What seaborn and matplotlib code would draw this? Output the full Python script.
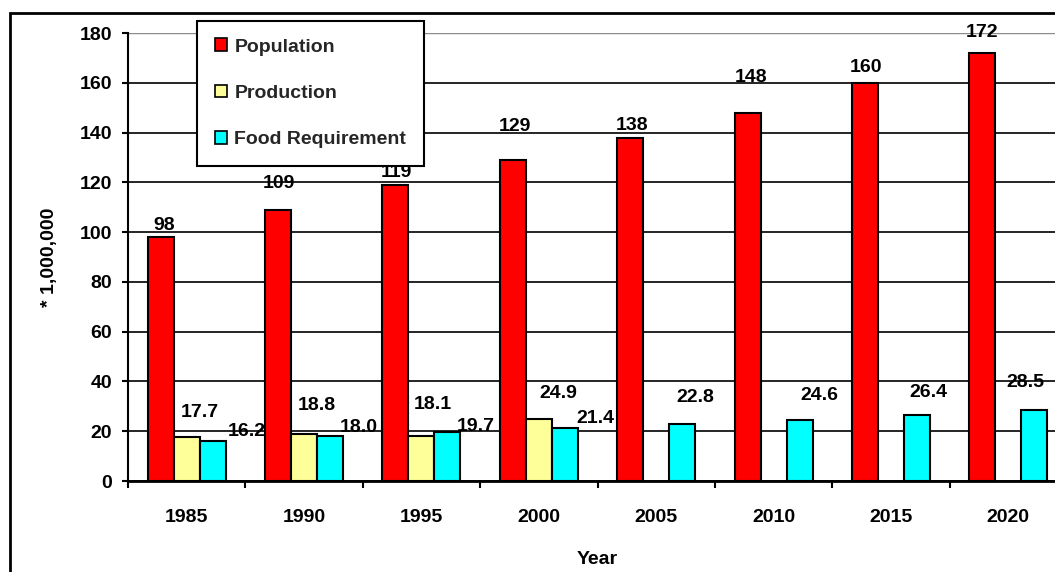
import numpy as np
import pandas as pd
import matplotlib
matplotlib.use("Agg")
import matplotlib.pyplot as plt
from matplotlib.patches import Patch, Rectangle
from matplotlib.ticker import FixedLocator
import seaborn as sns

# --- data (millions) ---
years = ["1985", "1990", "1995", "2000", "2005", "2010", "2015", "2020"]
population = [98, 109, 119, 129, 138, 148, 160, 172]
production = [17.7, 18.8, 18.1, 24.9, None, None, None, None]
food_requirement = [16.2, 18.0, 19.7, 21.4, 22.8, 24.6, 26.4, 28.5]
series_names = ["Population", "Production", "Food Requirement"]

# --- style ---
colors = {"Population": "#FF0000", "Production": "#FFFF99", "Food Requirement": "#00FFFF"}
label_formats = {"Population": "{:.0f}", "Production": "{:.1f}", "Food Requirement": "{:.1f}"}
# value label offsets (pixels) from the top centre of each bar
label_offsets = {
    "Population": [(3, 12), (1, 26), (1, 12), (2, 33), (2, 12), (3, 35), (1, 15), (0, 20)],
    "Production": [(13, 24), (13, 29), (11, 31), (19, 26)],
    "Food Requirement": [(34, 9), (29, 9), (28, 5), (31, 9), (13, 27), (20, 24), (11, 23), (-9, 28)],
}

sns.set_theme(style="white")
FONT = ["Liberation Sans", "DejaVu Sans"]
plt.rcParams["font.family"] = FONT
plt.rcParams["font.weight"] = "bold"

rows = []
for name, vals in zip(series_names, [population, production, food_requirement]):
    for yr, v in zip(years, vals):
        if v is not None:
            rows.append({"Year": yr, "Value": v, "Series": name})
df = pd.DataFrame(rows)

W, H = 1055, 572
fig = plt.figure(figsize=(W / 100, H / 100), dpi=100)
fig.patch.set_facecolor("white")
ax = fig.add_axes([128 / W, (H - 481) / H, (1067 - 128) / W, 448 / H])

sns.barplot(
    data=df, x="Year", y="Value", hue="Series", order=years, hue_order=series_names,
    palette=colors, saturation=1, width=0.664, edgecolor="black", linewidth=1.5,
    errorbar=None, legend=False, ax=ax, zorder=3,
)

ax.set_xlim(-0.5, len(years) - 0.5)
ax.set_ylim(0, 180)
ax.set_yticks(np.arange(0, 181, 20))
ax.set_axisbelow(True)
ax.yaxis.grid(True, color="black", linewidth=1.2)
ax.xaxis.grid(False)
ax.set_facecolor("white")
# the topmost gridline is drawn lighter
top_grid = ax.get_ygridlines()[-1]
top_grid.set_color("#8c8c8c")
top_grid.set_linewidth(1.0)

for side in ["top", "right"]:
    ax.spines[side].set_visible(False)
ax.spines["left"].set_color("black")
ax.spines["left"].set_linewidth(1.5)
ax.spines["bottom"].set_color("black")
ax.spines["bottom"].set_linewidth(2)
ax.spines["left"].set_zorder(4)
ax.spines["bottom"].set_zorder(4)

ax.tick_params(axis="y", which="major", left=True, length=4.3, width=1.5, color="black",
               pad=7, labelsize=14, labelcolor="black")
ax.tick_params(axis="x", which="major", bottom=True, length=0, pad=20.5, labelsize=14,
               labelcolor="black")
ax.xaxis.set_minor_locator(FixedLocator(np.arange(-0.5, len(years), 1.0)))
ax.tick_params(axis="x", which="minor", bottom=True, length=5, width=1.5, color="black")
for lbl in ax.get_xticklabels() + ax.get_yticklabels():
    lbl.set_fontweight("bold")

ax.set_xlabel("Year", fontsize=14, fontweight="bold", color="black", labelpad=17.5)
ax.set_ylabel("* 1,000,000", fontsize=14, fontweight="bold", color="black", labelpad=15.5)

# value labels
for name, container in zip(series_names, ax.containers):
    for k, bar in enumerate(container):
        h = bar.get_height()
        if np.isnan(h):
            continue
        cx = bar.get_x() + bar.get_width() / 2
        dx, dy = label_offsets[name][k]
        ax.annotate(label_formats[name].format(h), xy=(cx, h), xytext=(dx, dy),
                    textcoords="offset pixels", ha="center", va="center",
                    fontsize=14, fontweight="bold", color="black", zorder=6,
                    annotation_clip=False)

# legend
handles = [Patch(facecolor=colors[n], edgecolor="black", linewidth=1.2, label=n) for n in series_names]
leg = ax.legend(handles=handles, loc="upper left", bbox_to_anchor=(197 / W, 1 - 21 / H),
                bbox_transform=fig.transFigure, borderaxespad=0, frameon=True, fancybox=False,
                framealpha=1, edgecolor="black", facecolor="white",
                handlelength=0.62, handleheight=0.62, handletextpad=0.4,
                labelspacing=1.5, borderpad=0.9, prop={"family": FONT, "weight": "bold", "size": 14})
leg.get_frame().set_linewidth(1.5)
leg.set_zorder(10)

# outer chart frame
fig.patches.append(Rectangle((10 / W, -0.5), 1.2, 0.5 + 1 - 13 / H, fill=False,
                             edgecolor="black", linewidth=2, transform=fig.transFigure,
                             clip_on=False))

fig.savefig("out.png", dpi=100, facecolor="white")
